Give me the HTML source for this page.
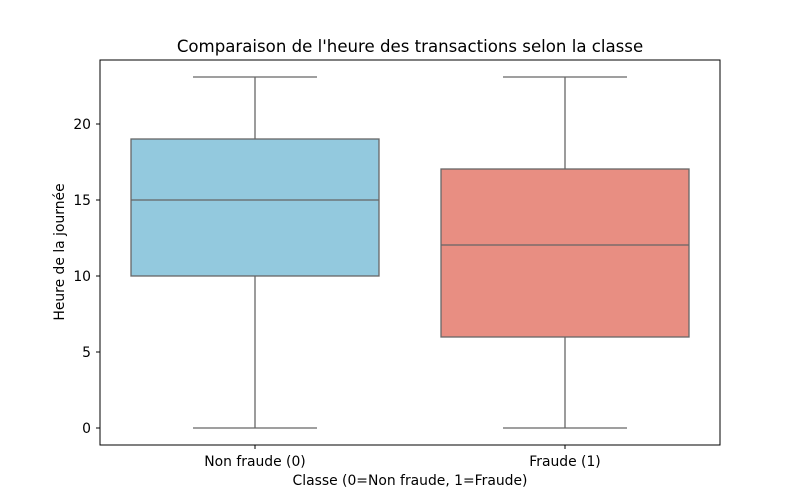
<!DOCTYPE html>
<html><head><meta charset="utf-8"><style>body{margin:0;background:#fff}svg{display:block}text{font-family:"DejaVu Sans","Liberation Sans",sans-serif;fill:#000}</style></head>
<body>
<svg width="800" height="500" viewBox="0 0 800 500" xmlns="http://www.w3.org/2000/svg">
<rect width="800" height="500" fill="#fff"/>
<text x="410" y="52" font-size="16.6" text-anchor="middle">Comparaison de l'heure des transactions selon la classe</text>
<g stroke="#666" stroke-width="1.3" fill="none">
<line x1="255" y1="77" x2="255" y2="139"/><line x1="255" y1="276" x2="255" y2="428"/>
<line x1="193" y1="77" x2="317" y2="77"/><line x1="193" y1="428" x2="317" y2="428"/>
<rect x="131" y="139" width="248" height="137" fill="#93c9de"/>
<line x1="131" y1="200" x2="379" y2="200"/>
<line x1="565" y1="77" x2="565" y2="169"/><line x1="565" y1="337" x2="565" y2="428"/>
<line x1="503" y1="77" x2="627" y2="77"/><line x1="503" y1="428" x2="627" y2="428"/>
<rect x="441" y="169" width="248" height="168" fill="#e88e82"/>
<line x1="441" y1="245" x2="689" y2="245"/>
</g>
<rect x="100" y="60" width="620" height="385" fill="none" stroke="#000" stroke-width="1"/>
<g stroke="#000" stroke-width="1">
<line x1="96" y1="428" x2="100" y2="428"/><line x1="96" y1="352" x2="100" y2="352"/><line x1="96" y1="276" x2="100" y2="276"/><line x1="96" y1="200" x2="100" y2="200"/><line x1="96" y1="124" x2="100" y2="124"/>
<line x1="255" y1="445" x2="255" y2="449"/><line x1="565" y1="445" x2="565" y2="449"/>
</g>
<g font-size="13.9" text-anchor="end">
<text x="91" y="433">0</text><text x="91" y="357">5</text><text x="91" y="281">10</text><text x="91" y="205">15</text><text x="91" y="129">20</text>
</g>
<g font-size="13.9" text-anchor="middle">
<text x="255" y="466">Non fraude (0)</text><text x="565" y="466">Fraude (1)</text>
<text x="410" y="485">Classe (0=Non fraude, 1=Fraude)</text>
<text transform="translate(64,252) rotate(-90)">Heure de la journée</text>
</g>
</svg>
</body></html>
